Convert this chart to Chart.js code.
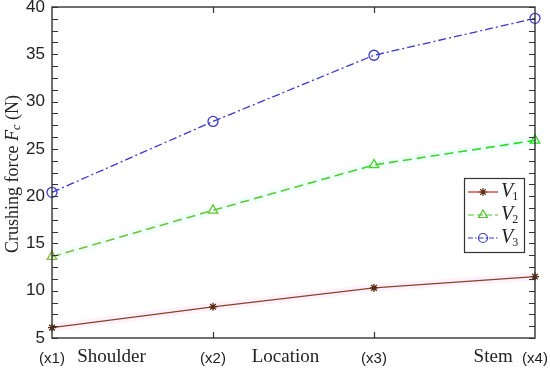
<!DOCTYPE html>
<html>
<head>
<meta charset="utf-8">
<script src="https://cdn.jsdelivr.net/npm/chart.js@4/dist/chart.umd.min.js"></script>
<style>
  html, body { margin: 0; padding: 0; background: #fff; }
  #wrap { width: 550px; height: 371px; }
</style>
</head>
<body>
<div id="wrap"><canvas id="c" width="550" height="371"></canvas></div>
<script>
// values
const locations = ['(x1)', '(x2)', '(x3)', '(x4)'];
const v1 = [6.1, 8.3, 10.3, 11.5];
const v2 = [13.6, 18.5, 23.3, 25.9];
const v3 = [20.4, 27.9, 34.9, 38.8];
const yTicks = [5, 10, 15, 20, 25, 30, 35, 40];
const regionWords = ['Shoulder', 'Location', 'Stem'];
const seriesNames = ['1', '2', '3'];

const serif = '"Liberation Serif", "DejaVu Serif", serif';
const sans = '"Liberation Sans", Arial, sans-serif';

const colV1 = '#8b4226', colV1m = '#5a2a10', colV1leg = '#e02020';
const colV2 = '#4cc62a', colV3 = '#3a3ad0';

function greenGrad(ctx) {
    const ch = ctx.chart;
    if (!ch.chartArea) return colV2;
    const a = ch.chartArea;
    const g = ch.ctx.createLinearGradient(a.left, 0, a.right, 0);
    g.addColorStop(0, '#86bb3c');
    g.addColorStop(1, '#20e020');
    return g;
}

// frame, inward ticks, axis words, y title and legend
const decor = {
    id: 'decor',
    beforeDatasetsDraw(chart) {
        // faint halo under the lower two lines
        const ctx = chart.ctx, x = chart.scales.x, y = chart.scales.y;
        const halo = [[v1, 'rgba(255,170,230,0.16)'], [v2, 'rgba(170,255,240,0.16)']];
        ctx.save();
        halo.forEach(([d, c]) => {
            ctx.beginPath();
            d.forEach((v, i) => {
                const px = x.getPixelForValue(i), py = y.getPixelForValue(v);
                i ? ctx.lineTo(px, py) : ctx.moveTo(px, py);
            });
            ctx.strokeStyle = c;
            ctx.lineWidth = 8;
            ctx.stroke();
        });
        ctx.restore();
    },
    afterDraw(chart) {
        const ctx = chart.ctx, a = chart.chartArea;
        const x = chart.scales.x, y = chart.scales.y;
        ctx.save();
        ctx.strokeStyle = '#333';
        ctx.lineWidth = 1.4;
        ctx.strokeRect(a.left, a.top, a.right - a.left, a.bottom - a.top);

        ctx.lineWidth = 1.2;
        ctx.beginPath();
        for (let v = 5; v <= 40.001; v += 1.25) {
            const py = Math.round(y.getPixelForValue(v)) + 0.5;
            ctx.moveTo(a.left, py); ctx.lineTo(a.left + 6, py);
            ctx.moveTo(a.right, py); ctx.lineTo(a.right - 6, py);
        }
        for (let i = 1; i < locations.length - 1; i++) {
            const px = Math.round(x.getPixelForValue(i)) + 0.5;
            ctx.moveTo(px, a.top); ctx.lineTo(px, a.top + 6);
            ctx.moveTo(px, a.bottom); ctx.lineTo(px, a.bottom - 6);
        }
        ctx.stroke();

        // region words on the x axis
        ctx.fillStyle = '#222';
        ctx.font = '19px ' + serif;
        ctx.textAlign = 'center';
        ctx.textBaseline = 'middle';
        const wordAt = [0.37, 1.45, 2.74];
        regionWords.forEach((w, i) => ctx.fillText(w, x.getPixelForValue(wordAt[i]), 357));

        // y title with italic F and subscript c
        ctx.save();
        ctx.translate(13, 174);
        ctx.rotate(-Math.PI / 2);
        ctx.textAlign = 'left';
        ctx.textBaseline = 'middle';
        const partA = 'Crushing force ', partF = 'F', partC = 'c', partB = ' (N)';
        const fN = '18px ' + serif, fI = 'italic 18px ' + serif, fS = 'italic 12px ' + serif;
        ctx.font = fN; const wA = ctx.measureText(partA).width, wB = ctx.measureText(partB).width;
        ctx.font = fI; const wF = ctx.measureText(partF).width;
        ctx.font = fS; const wC = ctx.measureText(partC).width;
        let cx = -(wA + wF + wC + wB) / 2;
        ctx.font = fN; ctx.fillText(partA, cx, 0); cx += wA;
        ctx.font = fI; ctx.fillText(partF, cx, 0); cx += wF;
        ctx.font = fS; ctx.fillText(partC, cx, 4); cx += wC;
        ctx.font = fN; ctx.fillText(partB, cx, 0);
        ctx.restore();

        // legend
        const lx = 464, ly = 178, lw = 60, lh = 74;
        ctx.fillStyle = '#fff';
        ctx.fillRect(lx, ly, lw, lh);
        ctx.strokeStyle = '#333';
        ctx.lineWidth = 1.2;
        ctx.strokeRect(lx + 0.5, ly + 0.5, lw, lh);
        const rows = [
            { c: colV1leg, mc: colV1m, dash: [], style: 'star', r: 4 },
            { c: colV2, mc: colV2, dash: [6, 3], style: 'triangle', r: 5 },
            { c: colV3, mc: colV3, dash: [5, 2, 1.5, 2], style: 'circle', r: 4.5 }
        ];
        rows.forEach((row, i) => {
            const ry = ly + 14 + i * 23;
            ctx.beginPath();
            ctx.setLineDash(row.dash);
            ctx.strokeStyle = row.c;
            ctx.lineWidth = 1.2;
            ctx.moveTo(lx + 4, ry); ctx.lineTo(lx + 34, ry);
            ctx.stroke();
            ctx.setLineDash([]);
            ctx.strokeStyle = row.mc;
            ctx.fillStyle = 'rgba(0,0,0,0)';
            Chart.helpers.drawPoint(ctx, { pointStyle: row.style, radius: row.r, borderWidth: 1.3 }, lx + 19, ry);
            ctx.fillStyle = '#222';
            ctx.textAlign = 'left';
            ctx.textBaseline = 'middle';
            ctx.font = 'italic 20px ' + serif;
            ctx.fillText('V', lx + 37, ry);
            const wv = ctx.measureText('V').width;
            ctx.font = '12px ' + serif;
            ctx.fillText(seriesNames[i], lx + 37 + wv - 1, ry + 5);
        });
        ctx.restore();
    }
};

new Chart(document.getElementById('c'), {
    type: 'line',
    data: {
        labels: locations,
        datasets: [
            { label: 'V1', data: v1, borderColor: colV1, borderWidth: 1.3,
              pointStyle: 'star', pointRadius: 4, pointBorderColor: colV1m, pointBorderWidth: 1.3,
              pointBackgroundColor: 'transparent', tension: 0 },
            { label: 'V2', data: v2, borderColor: greenGrad, borderWidth: 1.6, borderDash: [9, 5],
              pointStyle: 'triangle', pointRadius: 5.5, pointBorderColor: greenGrad, pointBorderWidth: 1.3,
              pointBackgroundColor: 'transparent', tension: 0 },
            { label: 'V3', data: v3, borderColor: colV3, borderWidth: 1.3, borderDash: [8, 3, 2, 3],
              pointStyle: 'circle', pointRadius: 5, pointBorderColor: colV3, pointBorderWidth: 1.3,
              pointBackgroundColor: 'transparent', tension: 0 }
        ]
    },
    options: {
        responsive: false,
        animation: false,
        layout: { padding: { top: 7, right: 15, left: 0, bottom: 0 } },
        plugins: { legend: { display: false }, tooltip: { enabled: false } },
        scales: {
            x: {
                offset: false,
                grid: { display: false, drawTicks: false },
                border: { display: false },
                ticks: { color: '#222', font: { family: sans, size: 15 }, padding: 12, maxRotation: 0 },
                afterFit(s) { s.height = 33; s.paddingLeft = 0; s.paddingRight = 0; }
            },
            y: {
                min: 5, max: 40,
                afterBuildTicks(s) { s.ticks = yTicks.map(v => ({ value: v })); },
                grid: { display: false, drawTicks: false },
                border: { display: false },
                ticks: { color: '#222', font: { family: sans, size: 17 }, padding: 7 },
                afterFit(s) { s.width = 52; s.paddingTop = 0; s.paddingBottom = 0; }
            }
        }
    },
    plugins: [decor]
});
</script>
</body>
</html>
